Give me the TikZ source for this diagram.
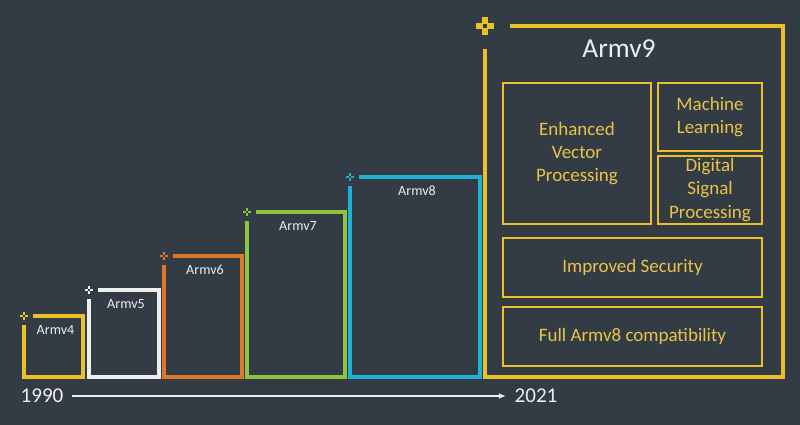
\documentclass[tikz,border=0pt]{standalone}
\usepackage{fontspec}
\setmainfont{Carlito}
\usepackage{tikz}
\usetikzlibrary{positioning, arrows.meta, calc}
\definecolor{cBg}{RGB}{51,59,69}
\definecolor{cY}{RGB}{236,192,40}
\definecolor{cT}{RGB}{232,196,72}
\definecolor{cW}{RGB}{238,238,238}
\definecolor{cO}{RGB}{224,118,44}
\definecolor{cG}{RGB}{140,198,63}
\definecolor{cC}{RGB}{30,178,214}

\begin{document}
\begin{tikzpicture}[x=0.025cm, y=-0.025cm,
    ver/.style={text=cW, font=\fontsize{10}{12}\selectfont},
    feat/.style={draw=cY, line width=1.1pt, text=cT, align=center, inner sep=0pt,
        font=\fontsize{13.5}{16.5}\selectfont},
    year/.style={text=cW, inner sep=6pt, font=\fontsize{15}{18}\selectfont}]
    \fill[cBg] (0,0) rectangle (800,425);
    \useasboundingbox (0,0) rectangle (800,425);

    % the growing boxes, one per architecture
    \foreach \l/\t/\r/\c/\n in {24/316/83/cY/4, 89/290/159/cW/5, 164/256/242/cO/6,
                                247/212/345/cG/7, 350/177/480/cC/8} {
        \draw[\c, line width=2.6pt] (\l+9,\t) -| (\r,377) -| (\l,\t+9);
        \draw[\c, line width=1.8pt] (\l-4,\t) -- (\l-1,\t) (\l+1,\t) -- (\l+4,\t)
                                    (\l,\t-4) -- (\l,\t-1) (\l,\t+1) -- (\l,\t+4);
        \node[ver] (v\n) at ({(\l+\r)/2+2}, \t+14) {Armv\n};
    }

    % Armv9
    \draw[cY, line width=3pt] (510,26) -| (783,377) -| (485,49);
    \draw[cY, line width=3.8pt] (476,26) -- (483,26) (487,26) -- (494,26)
                                (485,17) -- (485,24) (485,28) -- (485,35);
    \node[text=cW, font=\fontsize{19.5}{22}\selectfont] (v9) at (619,49) {Armv9};

    \node[feat, minimum width=3.7cm, minimum height=3.525cm] (evp) at (577,153.5)
        {Enhanced\\Vector\\Processing};
    \node[feat, minimum width=2.6cm, minimum height=1.7cm] (ml) at (710,117)
        {Machine\\Learning};
    \node[feat, minimum width=2.6cm, minimum height=1.7cm] (dsp) at (710,190)
        {Digital\\Signal\\Processing};
    \node[feat, minimum width=6.475cm, minimum height=1.475cm] (sec) at (632.5,267.5)
        {Improved Security};
    \node[feat, minimum width=6.475cm, minimum height=1.475cm] (comp) at (632.5,336.5)
        {Full Armv8 compatibility};

    % timeline
    \node[year] (y1990) at (42,396) {1990};
    \node[year] (y2021) at (536,396) {2021};
    \draw[cW, line width=0.8pt, -{Latex[length=5pt, width=4pt]}] (y1990) -- (y2021);
\end{tikzpicture}
\end{document}
